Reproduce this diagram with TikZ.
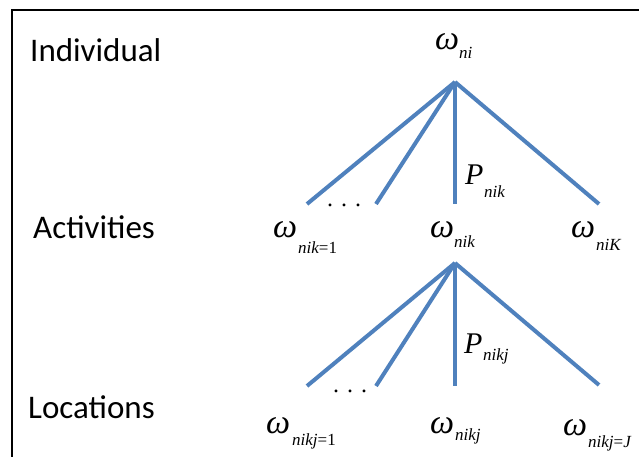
\documentclass[tikz,border=0pt]{standalone}
\usepackage{fontspec}
\setmainfont{Carlito}
\newfontfamily\tms{Liberation Serif}
\definecolor{lineblue}{RGB}{79,129,189}
\begin{document}
\begin{tikzpicture}[x=1pt,y=-1pt,
  edge/.style={draw=lineblue, line width=4pt},
  frame/.style={draw=black, line width=2pt},
  lvl/.style={anchor=base west, inner sep=0, font=\fontsize{33}{36}\selectfont},
  om/.style={anchor=base west, inner sep=0, font=\fontsize{34}{36}\tms\itshape},
  sub/.style={anchor=base west, inner sep=0, font=\fontsize{17}{18}\tms\itshape},
  pp/.style={anchor=base west, inner sep=0, font=\fontsize{30}{32}\tms\itshape},
  dotsl/.style={anchor=base west, inner sep=0, font=\fontsize{24}{24}\tms}]
\useasboundingbox (0,0) rectangle (639,457);
\clip (0,0) rectangle (639,457);
% frame
\coordinate (fb) at (12,470);
\coordinate (fc) at (12,10);
\coordinate (fr) at (660,10);
\draw[frame] (fb) -- (fc) -- (fr);
% level labels
\node[lvl] (indiv) at (30,62) {Individual};
\node[lvl] (activ) at (33,238) {Activities};
\node[lvl] (locat) at (28,418) {Locations};
% top tree
\coordinate (a) at (455,82);
\coordinate (t1) at (307,204);
\coordinate (t2) at (376,204);
\coordinate (t3) at (455,204);
\coordinate (t4) at (599,204);
\draw[edge] (a) -- (t1);
\draw[edge] (a) -- (t2);
\draw[edge] (a) -- (t3);
\draw[edge] (a) -- (t4);
% bottom tree
\coordinate (b) at (455,263);
\coordinate (c1) at (307,386);
\coordinate (c2) at (376,386);
\coordinate (c3) at (455,386);
\coordinate (c4) at (599,385);
\draw[edge] (b) -- (c1);
\draw[edge] (b) -- (c2);
\draw[edge] (b) -- (c3);
\draw[edge] (b) -- (c4);
% labels top
\node[om] (wni) at (435,50) {ω};
\node[sub] (wnis) at (459,59) {ni};
\node[pp] (pnik) at (465,185) {P};
\node[sub] (pniks) at (484,197) {nik};
\node[dotsl] (dots1) at (327,206) {. . .};
\node[om] (wnik1) at (273,237) {ω};
\node[sub] (wnik1s) at (298,253) {nik{\upshape=1}};
\node[om] (wnik) at (430,237) {ω};
\node[sub] (wniks) at (454,247) {nik};
\node[om] (wniK) at (571,237) {ω};
\node[sub] (wniKs) at (596,250) {niK};
% labels bottom
\node[pp] (pnikj) at (464,353) {P};
\node[sub] (pnikjs) at (483,360) {nikj};
\node[dotsl] (dots2) at (333,392) {. . .};
\node[om] (wnikj1) at (266,433) {ω};
\node[sub] (wnikj1s) at (292,445) {nikj{\upshape=1}};
\node[om] (wnikj) at (430,433) {ω};
\node[sub] (wnikjs) at (455,440) {nikj};
\node[om] (wnikjJ) at (563,435) {ω};
\node[sub] (wnikjJs) at (588,447) {nikj{\upshape=}J};
\end{tikzpicture}
\end{document}
